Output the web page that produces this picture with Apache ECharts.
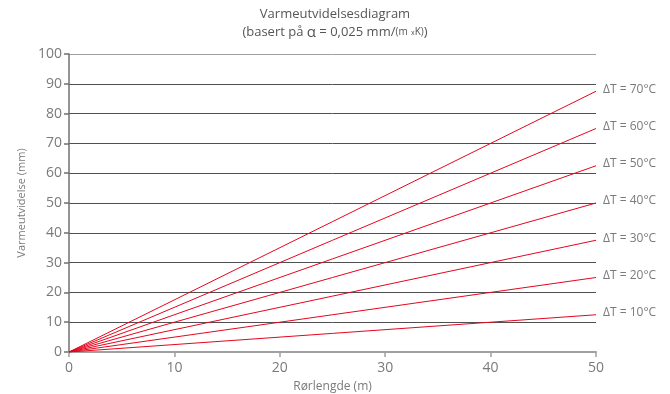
<!DOCTYPE html>
<html>
<head>
<meta charset="utf-8">
<title>Varmeutvidelsesdiagram</title>
<script src="https://cdn.jsdelivr.net/npm/echarts@6/dist/echarts.min.js"></script>
<style>
  html, body { margin: 0; padding: 0; background: #fff; }
  #chart { width: 670px; height: 394px; }
</style>
</head>
<body>
<div id="chart"></div>
<script>
// Pipe length range (m)
const lengths = [0, 50];
// Temperature differences (°C), one line each
const deltaT = [10, 20, 30, 40, 50, 60, 70];
// Expansion (mm) at 50 m pipe length for each temperature difference
const endExpansion = [12.5, 25, 37.5, 50, 62.5, 75, 87.5];
// Axis ticks
const yTicks = [0, 10, 20, 30, 40, 50, 60, 70, 80, 90, 100];
const xTicks = [0, 10, 20, 30, 40, 50];

const FONT = '"Open Sans", "Noto Sans", sans-serif';
const TEXT = '#7a7a7a';
const RED = '#e4061e';

const series = deltaT.map((dt, i) => ({
  type: 'line',
  name: 'ΔT = ' + dt + '°C',
  data: [[lengths[0], 0], [lengths[1], endExpansion[i]]],
  symbol: 'none',
  lineStyle: { color: RED, width: 1 },
  silent: true,
  animation: false,
  endLabel: {
    show: true,
    formatter: 'ΔT = ' + dt + '°C',
    color: TEXT,
    fontFamily: FONT,
    fontSize: 12,
    distance: 7,
    offset: [0, -2]
  }
}));

// Grid line colours: top and bottom lines lighter
const gridColors = yTicks.map((v, i) => (i === 0 || i === yTicks.length - 1) ? '#a0a0a0' : '#505050');

const chart = echarts.init(document.getElementById('chart'), null, { renderer: 'canvas' });
chart.setOption({
  backgroundColor: '#ffffff',
  animation: false,
  title: {
    text: 'Varmeutvidelsesdiagram',
    subtext: '(basert på {a|α} = 0,025 mm/{s|(m} {t|x}{s|K)})',
    left: 'center',
    top: 8,
    padding: [0, 14, 0, 0],
    itemGap: 4,
    textStyle: { fontFamily: FONT, fontSize: 13, fontWeight: 'normal', color: '#555' },
    subtextStyle: {
      fontFamily: FONT, fontSize: 13, color: '#555',
      rich: {
        a: { fontFamily: FONT, fontSize: 15, color: '#555' },
        s: { fontFamily: FONT, fontSize: 10, color: '#555' },
        t: { fontFamily: FONT, fontSize: 7, color: '#555' }
      }
    }
  },
  grid: { left: 69, right: 74, top: 54, bottom: 42, containLabel: false, outerBoundsMode: 'none' },
  xAxis: {
    type: 'value',
    min: xTicks[0],
    max: xTicks[xTicks.length - 1],
    interval: 10,
    name: 'Rørlengde (m)',
    nameLocation: 'middle',
    nameGap: 29,
    nameTextStyle: { fontFamily: FONT, fontSize: 12, color: TEXT },
    axisLine: { show: true, onZero: false, lineStyle: { color: '#a0a0a0', width: 2 } },
    axisTick: { show: true, length: 5, lineStyle: { color: '#a0a0a0', width: 1.5 } },
    axisLabel: { fontFamily: FONT, fontSize: 14, color: TEXT, margin: 9 },
    splitLine: { show: false }
  },
  yAxis: {
    type: 'value',
    min: yTicks[0],
    max: yTicks[yTicks.length - 1],
    interval: 10,
    name: 'Varmeutvidelse (mm)',
    nameLocation: 'middle',
    nameGap: 41,
    nameTextStyle: { fontFamily: FONT, fontSize: 11, color: TEXT },
    axisLine: { show: true, lineStyle: { color: '#707070', width: 1.5 } },
    axisTick: { show: true, length: 5, lineStyle: { color: '#707070', width: 1.5 } },
    axisLabel: { fontFamily: FONT, fontSize: 14, color: TEXT, margin: 7 },
    splitLine: { show: true, lineStyle: { color: gridColors, width: 1 } }
  },
  series: series
});
</script>
</body>
</html>
